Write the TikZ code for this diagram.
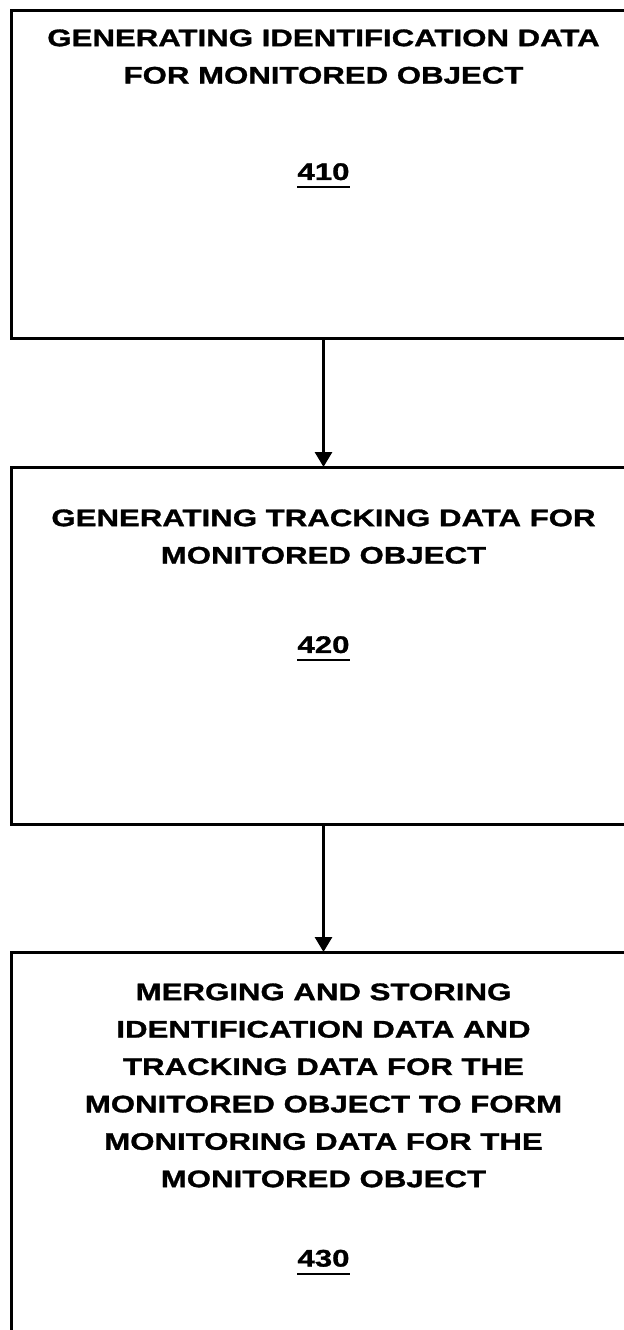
\documentclass[tikz,border=0pt]{standalone}
\usepackage{fontspec}
\usepackage{tikz}
\usetikzlibrary{positioning,arrows.meta}
\newfontfamily\boxfont{Liberation Sans}[FakeStretch=1.3, BoldFeatures={FakeBold=1.2}]
\newcommand{\refnum}[1]{\setbox0\hbox{#1}\rlap{\rule[-4.2pt]{\wd0}{1.2pt}}\box0}% underlined step number

\tikzset{
  stepbox/.style={draw, line width=1.5pt, outer sep=0pt, minimum width=312.5pt},
  steptext/.style={inner sep=0pt, align=center, font=\boxfont\bfseries\fontsize{12pt}{18.7pt}\selectfont},
  flow/.style={line width=1.5pt, -{Triangle[width=8.5pt,length=7.5pt]}}
}

\begin{document}
\begin{tikzpicture}
   \useasboundingbox (0,0) rectangle (312pt,-665pt);

   % the three steps
   \node[stepbox, minimum height=164pt, anchor=north west] (b410) at (5.5pt,-5pt) {};
   \node[stepbox, minimum height=178.5pt, below=64.5pt of b410] (b420) {};
   \node[stepbox, minimum height=200pt, below=64pt of b420] (b430) {};

   \node[steptext, below=9.5pt of b410.north] (t410)
     {GENERATING IDENTIFICATION DATA\\FOR MONITORED OBJECT\\[29.5pt]\refnum{410}};
   \node[steptext, below=21pt of b420.north] (t420)
     {GENERATING TRACKING DATA FOR\\MONITORED OBJECT\\[26pt]\refnum{420}};
   \node[steptext, below=15.5pt of b430.north] (t430)
     {MERGING AND STORING\\IDENTIFICATION DATA AND\\TRACKING DATA FOR THE\\MONITORED OBJECT TO FORM\\MONITORING DATA FOR THE\\MONITORED OBJECT\\[21pt]\refnum{430}};

   \draw[flow] (b410) -- (b420);
   \draw[flow] (b420) -- (b430);
 \end{tikzpicture}
\end{document}
